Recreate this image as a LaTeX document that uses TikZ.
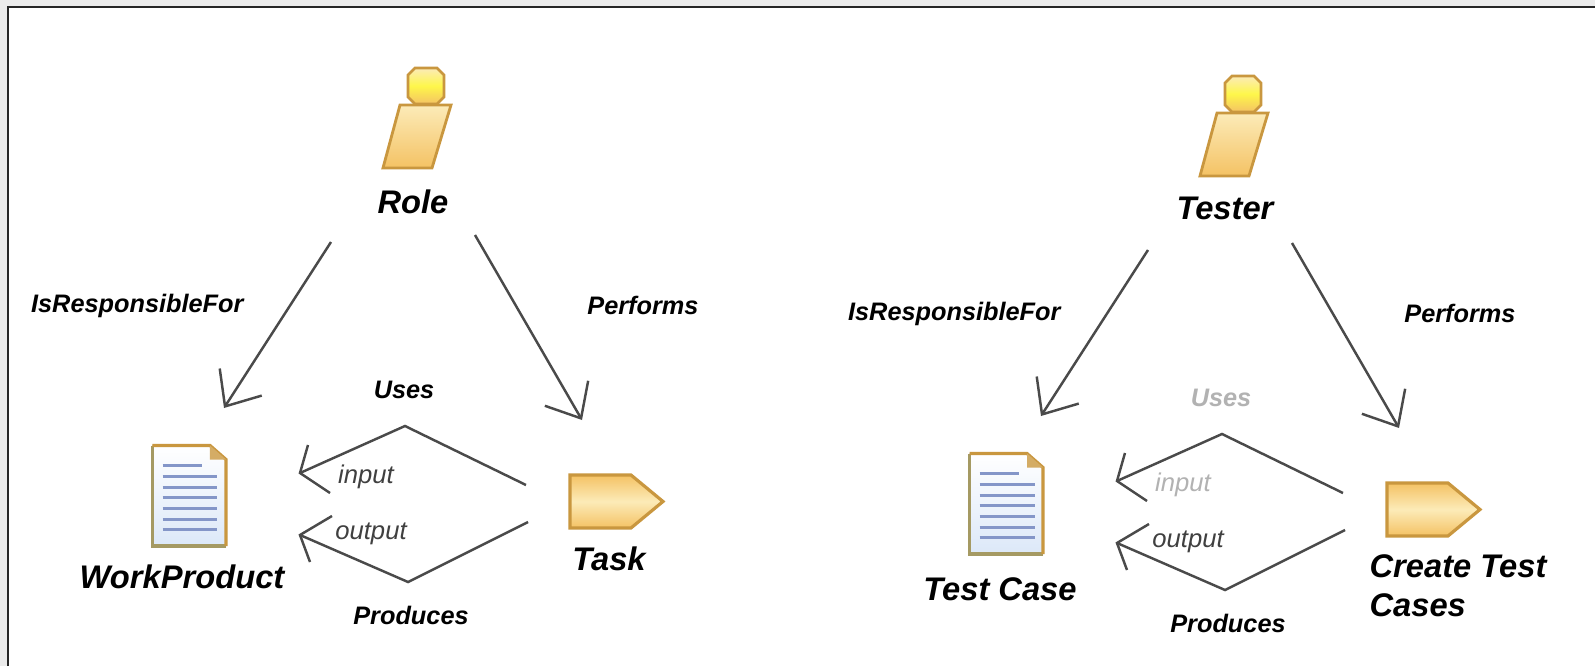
\documentclass[tikz,border=0pt]{standalone}
\usepackage{fontspec}
\setmainfont{Liberation Sans}
\usetikzlibrary{arrows.meta}
\definecolor{iconedge}{HTML}{C9973F}
\definecolor{iconlight}{HTML}{FCEBB8}
\definecolor{icondark}{HTML}{F4C264}
\definecolor{docline}{HTML}{8496C8}
\definecolor{docblue}{HTML}{DCE8F8}
\definecolor{docedge}{HTML}{A59A63}
\definecolor{lineink}{HTML}{4A4A4A}
\definecolor{pagegray}{HTML}{EBEBEB}
\tikzset{
  conn/.style={draw=lineink,line width=.7pt},
  head/.style={conn,-{Straight Barb[length=.29cm,width=.5cm,line width=.7pt]}},
  big/.style={font=\fontsize{9.3}{11}\selectfont\bfseries\itshape,text=black,inner sep=0pt},
  small/.style={font=\fontsize{7.2}{9}\selectfont\bfseries\itshape,text=black,inner sep=0pt},
  port/.style={font=\fontsize{7.3}{9}\selectfont\itshape,text=black!75,inner sep=0pt},
  pics/roleicon/.style={code={
    \draw[iconedge,line width=.8pt,top color=iconlight,bottom color=icondark]
      (-.26,-.19)--(.25,-.19)--(.06,-.82)--(-.43,-.82)--cycle;
    \draw[iconedge,line width=.8pt,top color=iconlight,bottom color=icondark,middle color=yellow!60!iconlight]
      (-.11,.18)--(.11,.18)--(.18,.11)--(.18,-.11)--(.11,-.18)--(-.11,-.18)--(-.18,-.11)--(-.18,.11)--cycle;
  }},
  pics/taskicon/.style={code={
    \draw[iconedge,line width=.9pt,top color=icondark,bottom color=icondark,middle color=iconlight]
      (0,.265)--(.61,.265)--(.93,0)--(.61,-.265)--(0,-.265)--cycle;
  }},
  pics/docicon/.style={code={
    \fill[top color=white,bottom color=docblue]
      (0,0)--(.575,0)--(.735,-.14)--(.735,-1.005)--(0,-1.005)--cycle;
    \draw[docline,line width=.8pt]
      (.10,-.20)--(.49,-.20) (.10,-.31)--(.65,-.31) (.10,-.42)--(.65,-.42) (.10,-.52)--(.65,-.52)
      (.10,-.63)--(.65,-.63) (.10,-.74)--(.65,-.74) (.10,-.84)--(.65,-.84);
    \draw[docedge,line width=.9pt] (.735,-1.005)--(0,-1.005)--(0,0);
    \draw[iconedge,line width=.9pt] (0,0)--(.575,0)--(.735,-.14)--(.735,-1.005);
    \fill[iconedge!80!white] (.575,0)--(.735,-.14)--(.575,-.14)--cycle;
  }},
}
\begin{document}
\begin{tikzpicture}
\useasboundingbox (0,0) rectangle (15.95,6.66);
\fill[pagegray] (0,0) rectangle (15.95,6.66);
\fill[white] (.08,0) rectangle (15.95,6.59);
\draw[black!85,line width=.85pt] (.08,0)--(.08,6.59)--(15.95,6.59);

\begin{scope}
    \pic at (4.26,5.80) {roleicon};
    \pic at (1.525,2.205) {docicon};
    \pic at (5.70,1.645) {taskicon};
    \node[big] (role) at (4.13,4.646) {Role};
    \node[big] (wp) at (1.82,.89) {WorkProduct};
    \node[big] (task) at (6.09,1.07) {Task};
    \node[small] (resp) at (1.373,3.60) {IsResponsibleFor};
    \node[small] (perf) at (6.43,3.61) {Performs};
    \node[small] (uses) at (4.04,2.764) {Uses};
    \node[small] (prod) at (4.11,.506) {Produces};
    \node[port] (in) at (3.66,1.89) {input};
    \node[port] (out) at (3.71,1.32) {output};

    \coordinate (rw) at (3.31,4.24);
    \coordinate (wptip) at (2.24,2.58);
    \coordinate (rt) at (4.75,4.31);
    \coordinate (tasktip) at (5.82,2.46);
    \draw[head] (rw)--(wptip);
    \draw[head] (rt)--(tasktip);

    \coordinate (ua) at (5.26,1.81);
    \coordinate (ub) at (4.05,2.40);
    \coordinate (ut) at (3.00,1.93);
    \coordinate (ub1) at (3.08,2.21);
    \coordinate (ub2) at (3.30,1.73);
    \draw[conn] (ua)--(ub)--(ut);
    \draw[conn] (ub1)--(ut)--(ub2);

    \coordinate (pa) at (5.28,1.44);
    \coordinate (pb) at (4.08,.84);
    \coordinate (pt) at (3.00,1.31);
    \coordinate (pb1) at (3.32,1.50);
    \coordinate (pb2) at (3.10,1.04);
    \draw[conn] (pa)--(pb)--(pt);
    \draw[conn] (pb1)--(pt)--(pb2);
\end{scope}

\begin{scope}[xshift=8.17cm,yshift=-.08cm]
    \pic at (4.26,5.80) {roleicon};
    \pic at (1.525,2.205) {docicon};
    \pic at (5.70,1.645) {taskicon};
    \node[big] (tester) at (4.08,4.655) {Tester};
    \node[big] (tcase) at (1.83,.85) {Test Case};
    \node[big,align=left] (create) at (6.41,.88) {Create Test\\Cases};
    \node[small] (resp2) at (1.373,3.60) {IsResponsibleFor};
    \node[small] (perf2) at (6.43,3.61) {Performs};
    \node[small,text=black!30] (uses2) at (4.04,2.764) {Uses};
    \node[small] (prod2) at (4.11,.506) {Produces};
    \node[port,text=black!30] (in2) at (3.66,1.89) {input};
    \node[port] (out2) at (3.71,1.32) {output};

    \coordinate (rw2) at (3.31,4.24);
    \coordinate (wptip2) at (2.24,2.58);
    \coordinate (rt2) at (4.75,4.31);
    \coordinate (tasktip2) at (5.82,2.46);
    \draw[head] (rw2)--(wptip2);
    \draw[head] (rt2)--(tasktip2);

    \coordinate (ua2) at (5.26,1.81);
    \coordinate (ub2x) at (4.05,2.40);
    \coordinate (ut2) at (3.00,1.93);
    \coordinate (ub12) at (3.08,2.21);
    \coordinate (ub22) at (3.30,1.73);
    \draw[conn] (ua2)--(ub2x)--(ut2);
    \draw[conn] (ub12)--(ut2)--(ub22);

    \coordinate (pa2) at (5.28,1.44);
    \coordinate (pb2x) at (4.08,.84);
    \coordinate (pt2) at (3.00,1.31);
    \coordinate (pb12) at (3.32,1.50);
    \coordinate (pb22) at (3.10,1.04);
    \draw[conn] (pa2)--(pb2x)--(pt2);
    \draw[conn] (pb12)--(pt2)--(pb22);
\end{scope}
\end{tikzpicture}
\end{document}
